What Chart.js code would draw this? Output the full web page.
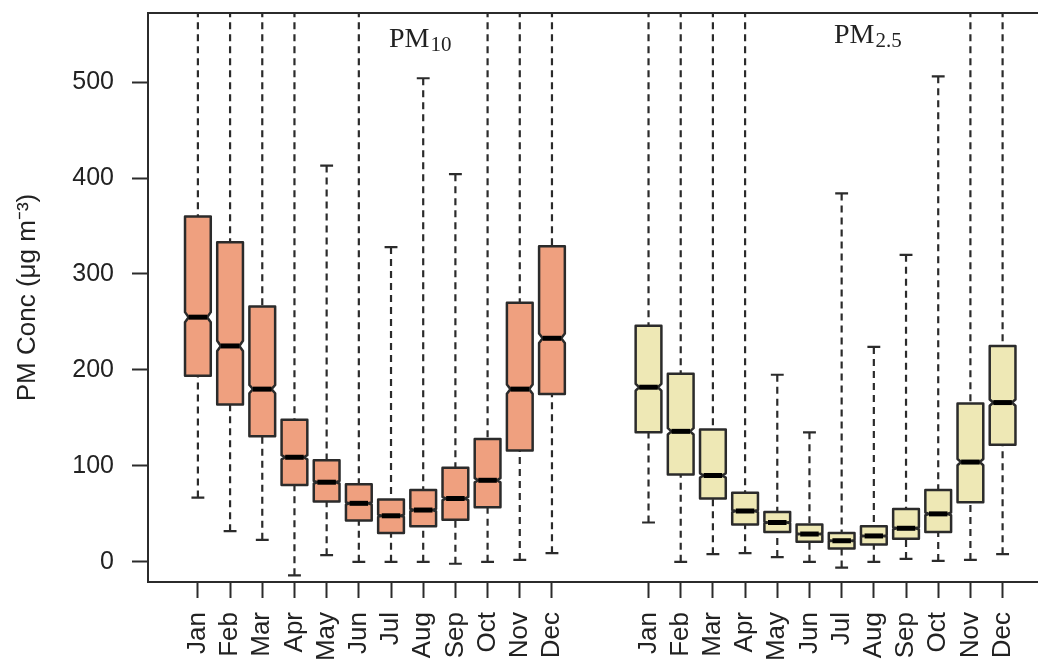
<!DOCTYPE html>
<html>
<head>
<meta charset="utf-8">
<script src="https://cdn.jsdelivr.net/npm/chart.js@4.4.1/dist/chart.umd.min.js"></script>
<style>
  html, body { margin: 0; padding: 0; background: #fff; overflow: hidden; }
  #wrap { width: 1038px; height: 663px; }
</style>
</head>
<body>
<div id="wrap"><canvas id="chart" width="1038" height="663"></canvas></div>
<script>
/* ---------- data ---------- */
const months = ['Jan', 'Feb', 'Mar', 'Apr', 'May', 'Jun', 'Jul', 'Aug', 'Sep', 'Oct', 'Nov', 'Dec'];
const pm10Pos = [1, 2, 3, 4, 5, 6, 7, 8, 9, 10, 11, 12];
const pm25Pos = [15, 16, 17, 18, 19, 20, 21, 22, 23, 24, 25, 26];

// PM10 box stats (ug/m3); whisker ends above 570 run off the top of the plot
const pm10Low  = [67, 32, 23, -14, 7, 0, 0, 0, -2, 0, 2, 9];
const pm10Q1   = [194, 164, 131, 80, 63, 43, 30, 37, 44, 57, 116, 175];
const pm10Med  = [255, 225, 180, 109, 83, 61, 48, 54, 66, 85, 180, 233];
const pm10Q3   = [360, 333, 266, 148, 106, 81, 65, 75, 98, 128, 270, 329];
const pm10High = [700, 700, 700, 700, 413, 700, 328, 504, 404, 700, 700, 700];

// PM2.5 box stats
const pm25Low  = [41, 0, 8, 9, 5, 0, -6, 0, 3, 1, 2, 8];
const pm25Q1   = [135, 91, 66, 39, 31, 21, 14, 18, 24, 31, 62, 122];
const pm25Med  = [182, 136, 90, 53, 41, 29, 22, 27, 35, 50, 104, 166];
const pm25Q3   = [246, 196, 138, 72, 52, 39, 30, 37, 55, 75, 165, 225];
const pm25High = [700, 700, 700, 700, 195, 135, 384, 224, 320, 506, 700, 700];

const yTicks = [0, 100, 200, 300, 400, 500];
const yMin = -21, yMax = 572;
const xMin = -0.55, xMax = 27.1;

/* ---------- look ---------- */
const INK = '#2b2b2b';
const sampleSize = 2500;   // only used for notch height, like R's 1.58*IQR/sqrt(n)
const boxWidth = 0.8;
const notchFrac = 0.72;

const groups = [
  { pos: pm10Pos, low: pm10Low, q1: pm10Q1, med: pm10Med, q3: pm10Q3, high: pm10High, fill: '#efa07f' },
  { pos: pm25Pos, low: pm25Low, q1: pm25Q1, med: pm25Med, q3: pm25Q3, high: pm25High, fill: '#eee8b5' }
];

Chart.defaults.font.family = '"Liberation Sans", Arial, sans-serif';
Chart.defaults.color = '#222';

const boxPlugin = {
  id: 'boxes',
  afterDatasetsDraw(chart) {
    const { ctx, chartArea: a, scales: { x, y } } = chart;
    ctx.save();
    ctx.beginPath();
    ctx.rect(a.left, a.top, a.right - a.left, a.bottom - a.top);
    ctx.clip();

    groups.forEach(g => {
      g.pos.forEach((p, i) => {
        const cx = x.getPixelForValue(p);
        const half = x.getPixelForValue(p + boxWidth / 2) - cx;
        const yLow = y.getPixelForValue(g.low[i]);
        const yQ1 = y.getPixelForValue(g.q1[i]);
        const yMed = y.getPixelForValue(g.med[i]);
        const yQ3 = y.getPixelForValue(g.q3[i]);
        const yHigh = y.getPixelForValue(g.high[i]);

        // whiskers
        ctx.strokeStyle = INK;
        ctx.lineWidth = 2.2;
        ctx.setLineDash([7, 5]);
        ctx.beginPath();
        ctx.moveTo(cx, yHigh); ctx.lineTo(cx, yQ3);
        ctx.moveTo(cx, yLow); ctx.lineTo(cx, yQ1);
        ctx.stroke();
        ctx.setLineDash([]);

        // caps
        ctx.beginPath();
        ctx.moveTo(cx - half / 2, yHigh); ctx.lineTo(cx + half / 2, yHigh);
        ctx.moveTo(cx - half / 2, yLow); ctx.lineTo(cx + half / 2, yLow);
        ctx.stroke();

        // notched box
        const n = 1.58 * (g.q3[i] - g.q1[i]) / Math.sqrt(sampleSize);
        const yNlo = y.getPixelForValue(g.med[i] - n);
        const yNhi = y.getPixelForValue(g.med[i] + n);
        const nw = half * notchFrac;
        ctx.beginPath();
        ctx.moveTo(cx - half, yQ1);
        ctx.lineTo(cx - half, yNlo);
        ctx.lineTo(cx - nw, yMed);
        ctx.lineTo(cx - half, yNhi);
        ctx.lineTo(cx - half, yQ3);
        ctx.lineTo(cx + half, yQ3);
        ctx.lineTo(cx + half, yNhi);
        ctx.lineTo(cx + nw, yMed);
        ctx.lineTo(cx + half, yNlo);
        ctx.lineTo(cx + half, yQ1);
        ctx.closePath();
        ctx.fillStyle = g.fill;
        ctx.fill();
        ctx.lineJoin = 'round';
        ctx.lineWidth = 2.5;
        ctx.stroke();

        // median
        ctx.beginPath();
        ctx.moveTo(cx - nw, yMed); ctx.lineTo(cx + nw, yMed);
        ctx.lineWidth = 5;
        ctx.strokeStyle = '#000';
        ctx.stroke();
      });
    });
    ctx.restore();
  },
  afterDraw(chart) {
    const { ctx, chartArea: a } = chart;
    ctx.save();
    // top frame line
    ctx.strokeStyle = INK;
    ctx.lineWidth = 2;
    ctx.beginPath();
    ctx.moveTo(a.left - 1, a.top); ctx.lineTo(a.right, a.top);
    ctx.stroke();

    // panel labels with subscripts
    ctx.fillStyle = '#222';
    ctx.textBaseline = 'alphabetic';
    const label = (main, sub, px, py) => {
      ctx.font = '28px "Liberation Serif", "Times New Roman", serif';
      ctx.fillText(main, px, py);
      const w = ctx.measureText(main).width;
      ctx.font = '21px "Liberation Serif", "Times New Roman", serif';
      ctx.fillText(sub, px + w + 1, py + 4);
    };
    label('PM', '10', 389, 47);
    label('PM', '2.5', 834, 43);
    ctx.restore();
  }
};

const allLabels = months.concat(months);
const tickPos = pm10Pos.concat(pm25Pos);

new Chart(document.getElementById('chart'), {
  type: 'scatter',
  data: {
    datasets: [
      { label: 'PM10', data: pm10Pos.map((p, i) => ({ x: p, y: pm10Med[i] })), pointRadius: 0 },
      { label: 'PM2.5', data: pm25Pos.map((p, i) => ({ x: p, y: pm25Med[i] })), pointRadius: 0 }
    ]
  },
  options: {
    responsive: false,
    animation: false,
    devicePixelRatio: 1,
    layout: { padding: { top: 13, right: 0, left: 0, bottom: 0 } },
    plugins: { legend: { display: false }, tooltip: { enabled: false } },
    scales: {
      x: {
        type: 'linear',
        min: xMin,
        max: xMax,
        afterBuildTicks: s => { s.ticks = tickPos.map(v => ({ value: v })); },
        afterFit: s => { s.height = 81; s.paddingLeft = 0; s.paddingRight = 0; },
        grid: { display: true, drawOnChartArea: false, drawTicks: true, tickLength: 16, tickWidth: 2, tickColor: INK },
        border: { display: true, color: INK, width: 2 },
        ticks: {
          autoSkip: false, minRotation: 90, maxRotation: 90, padding: 14,
          font: { size: 26 },
          callback: (v, i) => allLabels[i]
        }
      },
      y: {
        type: 'linear',
        min: yMin,
        max: yMax,
        afterBuildTicks: s => { s.ticks = yTicks.map(v => ({ value: v })); },
        afterFit: s => { s.width = 148; s.paddingTop = 0; s.paddingBottom = 0; },
        grid: { display: true, drawOnChartArea: false, drawTicks: true, tickLength: 16, tickWidth: 2, tickColor: INK },
        border: { display: true, color: INK, width: 2 },
        ticks: { padding: 18, font: { size: 25 } },
        title: {
          display: true,
          text: 'PM Conc (μg m⁻³)',
          font: { size: 26 },
          padding: { top: 12, bottom: 0 }
        }
      }
    }
  },
  plugins: [boxPlugin]
});
</script>
</body>
</html>
